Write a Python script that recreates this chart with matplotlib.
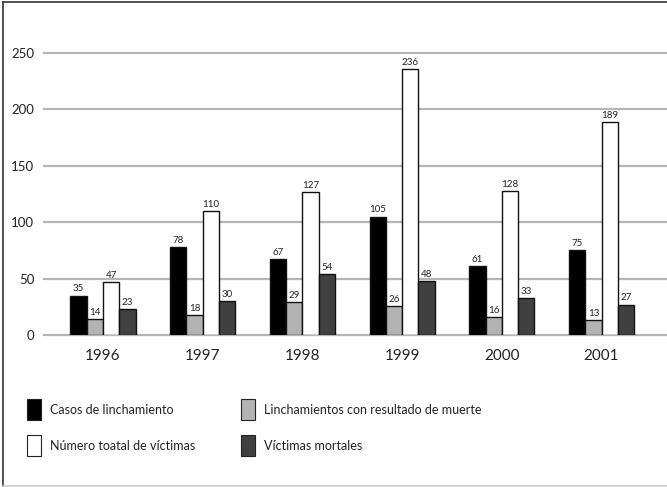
import matplotlib
matplotlib.use("Agg")
import matplotlib.pyplot as plt
from matplotlib.patches import Rectangle
from matplotlib.lines import Line2D
import numpy as np

plt.rcParams['font.family'] = ['Lato', 'DejaVu Sans']

years = ["1996", "1997", "1998", "1999", "2000", "2001"]
series_names = [
    "Casos de linchamiento",
    "Linchamientos con resultado de muerte",
    "Número toatal de víctimas",
    "Víctimas mortales",
]
casos = [35, 78, 67, 105, 61, 75]
linch_muerte = [14, 18, 29, 26, 16, 13]
total_victimas = [47, 110, 127, 236, 128, 189]
victimas_mortales = [23, 30, 54, 48, 33, 27]
yticks = [0, 50, 100, 150, 200, 250]

series = [casos, linch_muerte, total_victimas, victimas_mortales]
colors = ["#000000", "#b3b3b3", "#ffffff", "#404040"]

W, H = 667, 487
fig = plt.figure(figsize=(W / 100, H / 100), dpi=100)

# axes placed in pixel terms
left_px, right_px, top_px, bottom_px = 44, 667, 53, 335
ax = fig.add_axes([left_px / W, 1 - bottom_px / H,
                   (right_px - left_px) / W, (bottom_px - top_px) / H])

spacing = 99.7
c0 = 103
x = np.arange(len(years))
ax.set_xlim((left_px - c0) / spacing, (right_px - c0) / spacing)
ax.set_ylim(0, 250)

bw = 0.163
offsets = [-1.5 * bw, -0.5 * bw, 0.5 * bw, 1.5 * bw]
for vals, col, off in zip(series, colors, offsets):
    bars = ax.bar(x + off, vals, width=bw, color=col, edgecolor="#111111",
                  linewidth=1.0, zorder=3)
    for b, v in zip(bars, vals):
        ax.annotate(str(v), (b.get_x() + b.get_width() / 2, v),
                    xytext=(0, 1.5), textcoords="offset points",
                    ha="center", va="bottom", fontsize=7, color="#222222",
                    annotation_clip=False, zorder=4)

for t in yticks:
    ax.axhline(t, color="#b5b5b5", linewidth=1.6, zorder=1, clip_on=False)

ax.set_yticks(yticks)
ax.set_yticklabels([str(t) for t in yticks], fontsize=9.5, color="#222222")
ax.tick_params(axis="y", length=0, pad=7)
ax.set_xticks(x)
ax.set_xticklabels(years, fontsize=11, color="#222222")
ax.tick_params(axis="x", length=0, pad=10)
for s in ax.spines.values():
    s.set_visible(False)
ax.patch.set_alpha(0)

# legend drawn in figure pixel coordinates
def fx(px):
    return px / W

def fy(py):
    return 1 - py / H

legend_items = [
    (series_names[0], colors[0], 27, 399),
    (series_names[1], colors[1], 241, 399),
    (series_names[2], colors[2], 27, 435),
    (series_names[3], colors[3], 241, 435),
]
for label, col, lx, ly in legend_items:
    fig.add_artist(Rectangle((fx(lx), fy(ly + 21)), 14 / W, 21 / H,
                             facecolor=col, edgecolor="#222222", linewidth=0.8,
                             transform=fig.transFigure))
    fig.text(fx(lx + 23), fy(ly + 11), label, fontsize=9, color="#222222",
             va="center", ha="left")

# outer frame
fig.add_artist(Line2D([fx(3), 1], [fy(2), fy(2)], color="#333333", linewidth=1.2,
                      transform=fig.transFigure))
fig.add_artist(Line2D([fx(3), fx(3)], [fy(2), fy(486)], color="#333333", linewidth=1.2,
                      transform=fig.transFigure))
fig.add_artist(Line2D([fx(3), 1], [fy(486), fy(486)], color="#cccccc", linewidth=1.2,
                      transform=fig.transFigure))

fig.savefig("out.png", dpi=100)
